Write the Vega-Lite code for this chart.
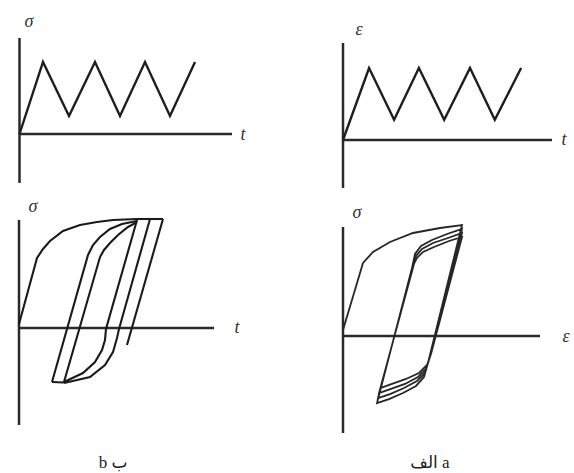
{
  "$schema": "https://vega.github.io/schema/vega-lite/v6.json",
  "padding": 0,
  "background": "white",
  "config": {"view": {"stroke": null}},
  "spacing": 0,
  "vconcat": [
    {
      "spacing": 0,
      "hconcat": [
        {
          "width": 287, "height": 190,
          "layer": [
            {
              "data": {"values": [
                {"x": 0, "y": 1.333, "x2": 0, "y2": -0.681},
                {"x": 0, "y": 0, "x2": 8.5, "y2": 0}
              ]},
              "mark": {"type": "rule", "color": "#2a2a2a", "strokeWidth": 2.5},
              "encoding": {
                "x": {"field": "x", "type": "quantitative", "scale": {"domain": [-0.78, 10.7], "nice": false, "zero": false}, "axis": null},
                "y": {"field": "y", "type": "quantitative", "scale": {"domain": [-0.7778, 1.8611], "nice": false, "zero": false}, "axis": null},
                "x2": {"field": "x2"}, "y2": {"field": "y2"}
              }
            },
            {
              "data": {"values": [
                {"i": 0, "t": 0, "sigma": 0}, {"i": 1, "t": 0.94, "sigma": 1}, {"i": 2, "t": 1.98, "sigma": 0.25},
                {"i": 3, "t": 3.02, "sigma": 1}, {"i": 4, "t": 4.02, "sigma": 0.25}, {"i": 5, "t": 5.02, "sigma": 1},
                {"i": 6, "t": 6.02, "sigma": 0.25}, {"i": 7, "t": 7.02, "sigma": 1}
              ]},
              "mark": {"type": "line", "color": "#1e1e1e", "strokeWidth": 2.4, "strokeJoin": "miter"},
              "encoding": {
                "x": {"field": "t", "type": "quantitative"},
                "y": {"field": "sigma", "type": "quantitative"},
                "order": {"field": "i"}
              }
            },
            {
              "data": {"values": [
                {"x": 0.38, "y": 1.556, "label": "σ"},
                {"x": 8.94, "y": -0.014, "label": "t"}
              ]},
              "mark": {"type": "text", "font": "Liberation Serif, Times New Roman, serif", "fontStyle": "italic", "fontSize": 18, "align": "center", "baseline": "middle", "color": "#333"},
              "encoding": {
                "x": {"field": "x", "type": "quantitative"},
                "y": {"field": "y", "type": "quantitative"},
                "text": {"field": "label"}
              }
            }
          ]
        },
        {
          "width": 287, "height": 190,
          "layer": [
            {
              "data": {"values": [
                {"x": 0, "y": 1.347, "x2": 0, "y2": -0.667},
                {"x": 0, "y": 0, "x2": 8.26, "y2": 0}
              ]},
              "mark": {"type": "rule", "color": "#2a2a2a", "strokeWidth": 2.5},
              "encoding": {
                "x": {"field": "x", "type": "quantitative", "scale": {"domain": [-2.2134, 9.1304], "nice": false, "zero": false}, "axis": null},
                "y": {"field": "y", "type": "quantitative", "scale": {"domain": [-0.6944, 1.9444], "nice": false, "zero": false}, "axis": null},
                "x2": {"field": "x2"}, "y2": {"field": "y2"}
              }
            },
            {
              "data": {"values": [
                {"i": 0, "t": 0, "eps": 0}, {"i": 1, "t": 1.03, "eps": 1}, {"i": 2, "t": 2.02, "eps": 0.28},
                {"i": 3, "t": 3.0, "eps": 1}, {"i": 4, "t": 4.0, "eps": 0.28}, {"i": 5, "t": 5.02, "eps": 1},
                {"i": 6, "t": 6.0, "eps": 0.28}, {"i": 7, "t": 7.04, "eps": 1}
              ]},
              "mark": {"type": "line", "color": "#1e1e1e", "strokeWidth": 2.4, "strokeJoin": "miter"},
              "encoding": {
                "x": {"field": "t", "type": "quantitative"},
                "y": {"field": "eps", "type": "quantitative"},
                "order": {"field": "i"}
              }
            },
            {
              "data": {"values": [
                {"x": 0.63, "y": 1.528, "label": "ε"},
                {"x": 8.735, "y": 0.0, "label": "t"}
              ]},
              "mark": {"type": "text", "font": "Liberation Serif, Times New Roman, serif", "fontStyle": "italic", "fontSize": 18, "align": "center", "baseline": "middle", "color": "#333"},
              "encoding": {
                "x": {"field": "x", "type": "quantitative"},
                "y": {"field": "y", "type": "quantitative"},
                "text": {"field": "label"}
              }
            }
          ]
        }
      ]
    },
    {
      "spacing": 0,
      "hconcat": [
        {
          "width": 287, "height": 283,
          "layer": [
            {
              "data": {"values": [
                {"x": 0, "y": 0.991, "x2": 0, "y2": -0.89},
                {"x": 0, "y": 0, "x2": 1.95, "y2": 0}
              ]},
              "mark": {"type": "rule", "color": "#2a2a2a", "strokeWidth": 2.5},
              "encoding": {
                "x": {"field": "x", "type": "quantitative", "scale": {"domain": [-0.19, 2.68], "nice": false, "zero": false}, "axis": null},
                "y": {"field": "y", "type": "quantitative", "scale": {"domain": [-1.3303, 1.2661], "nice": false, "zero": false}, "axis": null},
                "x2": {"field": "x2"}, "y2": {"field": "y2"}
              }
            },
            {
              "data": {"values": [
                {"seg": "initial", "i": 0, "eps": 0, "sigma": 0.037},
                {"seg": "initial", "i": 1, "eps": 0.18, "sigma": 0.642},
                {"seg": "initial", "i": 2, "eps": 0.24, "sigma": 0.725},
                {"seg": "initial", "i": 3, "eps": 0.31, "sigma": 0.798},
                {"seg": "initial", "i": 4, "eps": 0.44, "sigma": 0.89},
                {"seg": "initial", "i": 5, "eps": 0.61, "sigma": 0.945},
                {"seg": "initial", "i": 6, "eps": 0.78, "sigma": 0.972},
                {"seg": "initial", "i": 7, "eps": 0.94, "sigma": 0.991},
                {"seg": "initial", "i": 8, "eps": 1.18, "sigma": 1.0},
                {"seg": "top", "i": 0, "eps": 1.18, "sigma": 1.0},
                {"seg": "top", "i": 1, "eps": 1.44, "sigma": 1.0},
                {"seg": "bottom", "i": 0, "eps": 0.33, "sigma": -0.495},
                {"seg": "bottom", "i": 1, "eps": 0.45, "sigma": -0.5},
                {"seg": "D1", "i": 0, "eps": 1.18, "sigma": 0.991},
                {"seg": "D1", "i": 1, "eps": 0.87, "sigma": -0.009},
                {"seg": "D1", "i": 2, "eps": 0.86, "sigma": -0.11},
                {"seg": "D1", "i": 3, "eps": 0.83, "sigma": -0.202},
                {"seg": "D1", "i": 4, "eps": 0.76, "sigma": -0.312},
                {"seg": "D1", "i": 5, "eps": 0.64, "sigma": -0.413},
                {"seg": "D1", "i": 6, "eps": 0.45, "sigma": -0.495},
                {"seg": "D2", "i": 0, "eps": 1.31, "sigma": 1.0},
                {"seg": "D2", "i": 1, "eps": 1.0, "sigma": -0.009},
                {"seg": "D2", "i": 2, "eps": 0.98, "sigma": -0.092},
                {"seg": "D2", "i": 3, "eps": 0.94, "sigma": -0.22},
                {"seg": "D2", "i": 4, "eps": 0.86, "sigma": -0.339},
                {"seg": "D2", "i": 5, "eps": 0.71, "sigma": -0.45},
                {"seg": "D2", "i": 6, "eps": 0.45, "sigma": -0.505},
                {"seg": "D3", "i": 0, "eps": 1.44, "sigma": 1.0},
                {"seg": "D3", "i": 1, "eps": 1.08, "sigma": -0.156},
                {"seg": "A1", "i": 0, "eps": 0.33, "sigma": -0.495},
                {"seg": "A1", "i": 1, "eps": 0.69, "sigma": 0.67},
                {"seg": "A1", "i": 2, "eps": 0.74, "sigma": 0.761},
                {"seg": "A1", "i": 3, "eps": 0.81, "sigma": 0.835},
                {"seg": "A1", "i": 4, "eps": 0.91, "sigma": 0.908},
                {"seg": "A1", "i": 5, "eps": 1.03, "sigma": 0.954},
                {"seg": "A1", "i": 6, "eps": 1.18, "sigma": 0.982},
                {"seg": "A2", "i": 0, "eps": 0.45, "sigma": -0.495},
                {"seg": "A2", "i": 1, "eps": 0.81, "sigma": 0.651},
                {"seg": "A2", "i": 2, "eps": 0.85, "sigma": 0.716},
                {"seg": "A2", "i": 3, "eps": 0.91, "sigma": 0.78},
                {"seg": "A2", "i": 4, "eps": 0.99, "sigma": 0.853},
                {"seg": "A2", "i": 5, "eps": 1.09, "sigma": 0.927},
                {"seg": "A2", "i": 6, "eps": 1.18, "sigma": 0.972}
              ]},
              "mark": {"type": "line", "color": "#1a1a1a", "strokeWidth": 2.1},
              "encoding": {
                "x": {"field": "eps", "type": "quantitative"},
                "y": {"field": "sigma", "type": "quantitative"},
                "detail": {"field": "seg"},
                "order": {"field": "i"}
              }
            },
            {
              "data": {"values": [
                {"x": 0.14, "y": 1.11, "label": "σ"},
                {"x": 2.18, "y": 0.0, "label": "t"}
              ]},
              "mark": {"type": "text", "font": "Liberation Serif, Times New Roman, serif", "fontStyle": "italic", "fontSize": 18, "align": "center", "baseline": "middle", "color": "#333"},
              "encoding": {
                "x": {"field": "x", "type": "quantitative"},
                "y": {"field": "y", "type": "quantitative"},
                "text": {"field": "label"}
              }
            },
            {
              "data": {"values": [{"x": 0.94, "y": -1.239, "label": "b ب"}]},
              "mark": {"type": "text", "font": "Liberation Serif, Times New Roman, DejaVu Sans, serif", "fontSize": 17, "align": "center", "baseline": "middle", "color": "#222"},
              "encoding": {
                "x": {"field": "x", "type": "quantitative"},
                "y": {"field": "y", "type": "quantitative"},
                "text": {"field": "label"}
              }
            }
          ]
        },
        {
          "width": 287, "height": 283,
          "layer": [
            {
              "data": {"values": [
                {"x": 0, "y": 0.982, "x2": 0, "y2": -0.874},
                {"x": 0, "y": 0, "x2": 1.97, "y2": 0}
              ]},
              "mark": {"type": "rule", "color": "#2a2a2a", "strokeWidth": 2.5},
              "encoding": {
                "x": {"field": "x", "type": "quantitative", "scale": {"domain": [-0.56, 2.31], "nice": false, "zero": false}, "axis": null},
                "y": {"field": "y", "type": "quantitative", "scale": {"domain": [-1.2342, 1.3153], "nice": false, "zero": false}, "axis": null},
                "x2": {"field": "x2"}, "y2": {"field": "y2"}
              }
            },
            {
              "data": {"values": [
                {"i": 1, "eps": 0.0, "sigma": 0.054},
                {"i": 2, "eps": 0.2, "sigma": 0.658},
                {"i": 3, "eps": 0.3, "sigma": 0.757},
                {"i": 4, "eps": 0.47, "sigma": 0.847},
                {"i": 5, "eps": 0.7, "sigma": 0.928},
                {"i": 6, "eps": 0.97, "sigma": 0.973},
                {"i": 7, "eps": 1.19, "sigma": 1.0},
                {"i": 8, "eps": 0.85, "sigma": -0.243},
                {"i": 9, "eps": 0.81, "sigma": -0.369},
                {"i": 10, "eps": 0.73, "sigma": -0.45},
                {"i": 11, "eps": 0.6, "sigma": -0.514},
                {"i": 12, "eps": 0.46, "sigma": -0.568},
                {"i": 13, "eps": 0.34, "sigma": -0.604},
                {"i": 14, "eps": 0.69, "sigma": 0.613},
                {"i": 15, "eps": 0.72, "sigma": 0.739},
                {"i": 16, "eps": 0.78, "sigma": 0.811},
                {"i": 17, "eps": 0.89, "sigma": 0.865},
                {"i": 18, "eps": 1.04, "sigma": 0.919},
                {"i": 19, "eps": 1.19, "sigma": 0.964},
                {"i": 20, "eps": 0.86, "sigma": -0.216},
                {"i": 21, "eps": 0.82, "sigma": -0.333},
                {"i": 22, "eps": 0.74, "sigma": -0.405},
                {"i": 23, "eps": 0.61, "sigma": -0.468},
                {"i": 24, "eps": 0.47, "sigma": -0.523},
                {"i": 25, "eps": 0.35, "sigma": -0.559},
                {"i": 26, "eps": 0.7, "sigma": 0.631},
                {"i": 27, "eps": 0.73, "sigma": 0.721},
                {"i": 28, "eps": 0.79, "sigma": 0.784},
                {"i": 29, "eps": 0.9, "sigma": 0.838},
                {"i": 30, "eps": 1.05, "sigma": 0.883},
                {"i": 31, "eps": 1.19, "sigma": 0.928},
                {"i": 32, "eps": 0.87, "sigma": -0.189},
                {"i": 33, "eps": 0.83, "sigma": -0.297},
                {"i": 34, "eps": 0.75, "sigma": -0.369},
                {"i": 35, "eps": 0.62, "sigma": -0.432},
                {"i": 36, "eps": 0.48, "sigma": -0.477},
                {"i": 37, "eps": 0.36, "sigma": -0.514},
                {"i": 38, "eps": 0.71, "sigma": 0.649},
                {"i": 39, "eps": 0.74, "sigma": 0.703},
                {"i": 40, "eps": 0.8, "sigma": 0.757},
                {"i": 41, "eps": 0.91, "sigma": 0.802},
                {"i": 42, "eps": 1.06, "sigma": 0.856},
                {"i": 43, "eps": 1.19, "sigma": 0.892},
                {"i": 44, "eps": 0.88, "sigma": -0.162},
                {"i": 45, "eps": 0.84, "sigma": -0.261},
                {"i": 46, "eps": 0.76, "sigma": -0.333},
                {"i": 47, "eps": 0.63, "sigma": -0.387},
                {"i": 48, "eps": 0.49, "sigma": -0.432},
                {"i": 49, "eps": 0.38, "sigma": -0.468}
              ]},
              "mark": {"type": "line", "color": "#262626", "strokeWidth": 1.8},
              "encoding": {
                "x": {"field": "eps", "type": "quantitative"},
                "y": {"field": "sigma", "type": "quantitative"},
                "order": {"field": "i"}
              }
            },
            {
              "data": {"values": [
                {"x": 0.14, "y": 1.108, "label": "σ"},
                {"x": 2.23, "y": -0.01, "label": "ε"}
              ]},
              "mark": {"type": "text", "font": "Liberation Serif, Times New Roman, serif", "fontStyle": "italic", "fontSize": 18, "align": "center", "baseline": "middle", "color": "#333"},
              "encoding": {
                "x": {"field": "x", "type": "quantitative"},
                "y": {"field": "y", "type": "quantitative"},
                "text": {"field": "label"}
              }
            },
            {
              "data": {"values": [{"x": 0.87, "y": -1.144, "label": "الف a"}]},
              "mark": {"type": "text", "font": "Liberation Serif, Times New Roman, DejaVu Sans, serif", "fontSize": 17, "align": "center", "baseline": "middle", "color": "#222"},
              "encoding": {
                "x": {"field": "x", "type": "quantitative"},
                "y": {"field": "y", "type": "quantitative"},
                "text": {"field": "label"}
              }
            }
          ]
        }
      ]
    }
  ]
}
